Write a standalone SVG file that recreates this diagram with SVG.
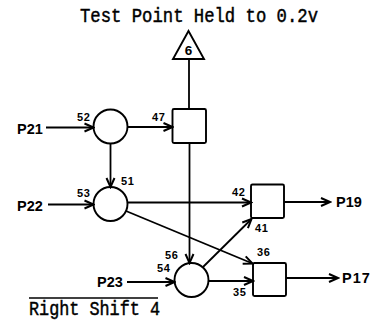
<svg xmlns="http://www.w3.org/2000/svg" width="371" height="324" viewBox="0 0 371 324">
<style>
.node{fill:none;stroke:#000;stroke-width:1.9}
.conn line{stroke:#000;stroke-width:1.8;fill:none}
.lbl{font-family:"Liberation Sans",Arial,sans-serif;font-weight:bold;fill:#000}
.big{font-size:14.5px}
.small{font-size:11px;letter-spacing:0.6px}
.type{font-family:"Liberation Mono","Courier New",monospace;fill:#000;stroke:#000;stroke-width:0.45}
</style>
<defs>
<marker id="arr" viewBox="0 0 12 11" refX="10.5" refY="5.5" markerWidth="12" markerHeight="11" markerUnits="userSpaceOnUse" orient="auto">
<path d="M1.5,1.5 L10.5,5.5 L1.5,9.5" fill="none" stroke="#000" stroke-width="2"/>
</marker>
</defs>
<rect width="371" height="324" fill="#fff"/>
<text class="type" x="80" y="22" font-size="20" textLength="238" lengthAdjust="spacingAndGlyphs">Test Point Held to 0.2v</text>
<g id="t6"><polygon class="node" points="188.5,31 173,59 204,59"/><text class="lbl" x="188.5" y="55" font-size="13.5" text-anchor="middle">6</text></g>
<g id="c52"><circle class="node" cx="110.5" cy="126.5" r="17"/><text class="lbl small" x="77" y="121">52</text></g>
<g id="s47"><rect class="node" x="172.5" y="109" width="33.5" height="34" rx="1.5"/><text class="lbl small" x="152" y="121">47</text></g>
<g id="c53"><circle class="node" cx="110.5" cy="204" r="17"/><text class="lbl small" x="77" y="197">53</text><text class="lbl small" x="121" y="185">51</text></g>
<g id="s42"><rect class="node" x="251" y="184.5" width="33" height="33.5" rx="1.5"/><text class="lbl small" x="232" y="196">42</text><text class="lbl small" x="255" y="232">41</text></g>
<g id="c56"><circle class="node" cx="191.5" cy="280" r="17"/><text class="lbl small" x="165" y="259">56</text><text class="lbl small" x="157" y="272">54</text></g>
<g id="s36"><rect class="node" x="253" y="263" width="33" height="33" rx="1.5"/><text class="lbl small" x="257" y="256" letter-spacing="1.5">36</text><text class="lbl small" x="233" y="296">35</text></g>
<g id="P21"><text class="lbl big" x="17" y="134">P21</text></g>
<g id="P22"><text class="lbl big" x="17" y="211">P22</text></g>
<g id="P23"><text class="lbl big" x="97" y="287">P23</text></g>
<g id="P19"><text class="lbl big" x="336" y="207">P19</text></g>
<g id="P17"><text class="lbl big" x="342" y="283" letter-spacing="1">P17</text></g>
<g class="conn" id="connectors">
<line x1="46" y1="127.5" x2="93.5" y2="127.5" marker-end="url(#arr)"/>
<line x1="127.5" y1="127" x2="172.5" y2="127" marker-end="url(#arr)"/>
<line x1="110.5" y1="143.5" x2="110.5" y2="187" marker-end="url(#arr)"/>
<line x1="189" y1="59" x2="189" y2="109"/>
<line x1="189.5" y1="143" x2="189.5" y2="263" marker-end="url(#arr)"/>
<line x1="48" y1="204.5" x2="93.5" y2="204.5" marker-end="url(#arr)"/>
<line x1="127.5" y1="202.5" x2="251" y2="202.5" marker-end="url(#arr)"/>
<line x1="126" y1="211" x2="252.5" y2="263.5" marker-end="url(#arr)"/>
<line x1="203" y1="267" x2="251.5" y2="219" marker-end="url(#arr)"/>
<line x1="208.5" y1="281" x2="253" y2="281" marker-end="url(#arr)"/>
<line x1="127" y1="282" x2="174.5" y2="282" marker-end="url(#arr)"/>
<line x1="284" y1="202" x2="330" y2="202" marker-end="url(#arr)"/>
<line x1="286" y1="278" x2="338" y2="278" marker-end="url(#arr)"/>
</g>
<line x1="29" y1="298" x2="158" y2="298" stroke="#000" stroke-width="1.5"/>
<text class="type" x="29" y="315" font-size="19.5" textLength="131" lengthAdjust="spacingAndGlyphs">Right Shift 4</text>
</svg>
